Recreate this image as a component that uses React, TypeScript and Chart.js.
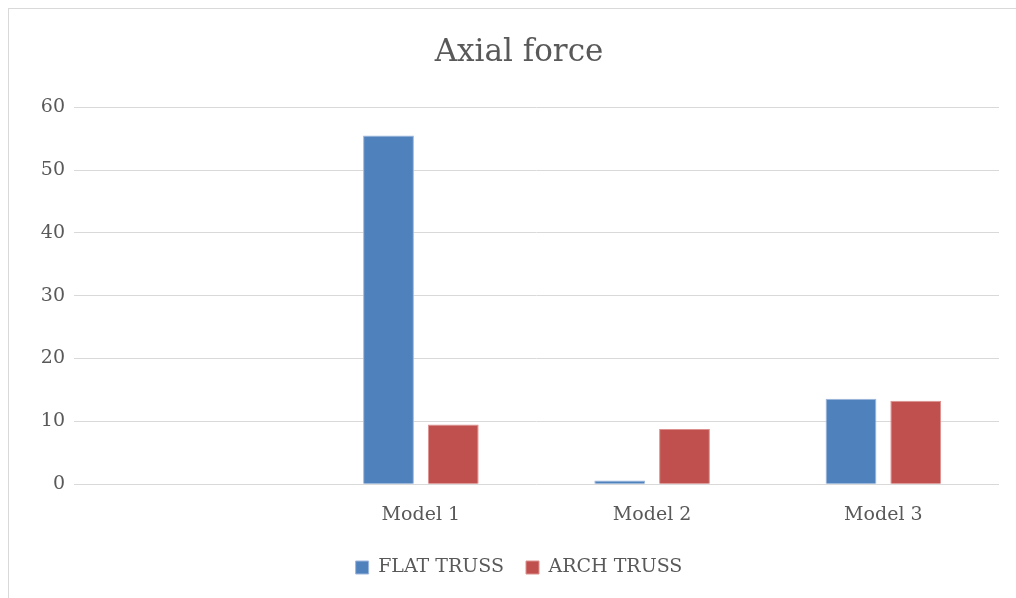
import React, { useEffect, useRef } from "react";
import { Chart, registerables } from "chart.js";

Chart.register(...registerables);

const categories = ["", "Model 1", "Model 2", "Model 3"];
const flatTruss = [null, 55.5, 0.6, 13.6];
const archTruss = [null, 9.5, 8.8, 13.3];
const yTicks = [0, 10, 20, 30, 40, 50, 60];

const FONT = "'DejaVu Serif', serif";

export default function App() {
  const ref = useRef<HTMLCanvasElement | null>(null);
  useEffect(() => {
    if (!ref.current) return;
    const chart = new Chart(ref.current, {
      type: "bar",
      data: {
        labels: categories,
        datasets: [
          {
            label: "FLAT TRUSS",
            data: flatTruss,
            backgroundColor: "#4F81BD",
            borderColor: "#9db6dc",
            borderWidth: 1,
            categoryPercentage: 0.56,
            barPercentage: 0.785,
          },
          {
            label: "ARCH TRUSS",
            data: archTruss,
            backgroundColor: "#C0504D",
            borderColor: "#dc908e",
            borderWidth: 1,
            categoryPercentage: 0.56,
            barPercentage: 0.785,
          },
        ],
      },
      options: {
        animation: false,
        responsive: false,
        maintainAspectRatio: false,
        layout: { padding: { left: 30, right: 17, top: 0, bottom: 12 } },
        plugins: {
          title: {
            display: true,
            text: "Axial force",
            color: "#595959",
            font: { family: FONT, size: 31, weight: "normal" },
            padding: { top: 25, bottom: 36 },
          },
          legend: {
            position: "bottom",
            labels: {
              color: "#595959",
              font: { family: FONT, size: 19 },
              boxWidth: 13,
              boxHeight: 13,
              padding: 22,
            },
          },
          tooltip: { enabled: false },
        },
        scales: {
          x: {
            grid: { display: false, drawTicks: false },
            border: { display: false },
            ticks: {
              color: "#595959",
              font: { family: FONT, size: 19 },
              padding: 19,
            },
            afterFit: (s: any) => {
              s.height = s.height - 9;
            },
          },
          y: {
            min: 0,
            max: 60,
            afterBuildTicks: (s: any) => {
              s.ticks = yTicks.map((v) => ({ value: v }));
            },
            afterFit: (s: any) => {
              s.width = 35;
            },
            grid: { color: "#d9d9d9", lineWidth: 1, drawTicks: false },
            border: { display: false },
            ticks: {
              color: "#595959",
              font: { family: FONT, size: 19 },
              padding: 9,
            },
          },
        },
      },
    });
    return () => chart.destroy();
  }, []);
  return (
    <div
      style={{
        position: "fixed",
        left: 8,
        top: 8,
        width: 1030,
        height: 620,
        border: "1px solid #d9d9d9",
        background: "#fff",
      }}
    >
      <canvas ref={ref} width={1007} height={590} style={{ display: "block" }} />
    </div>
  );
}
